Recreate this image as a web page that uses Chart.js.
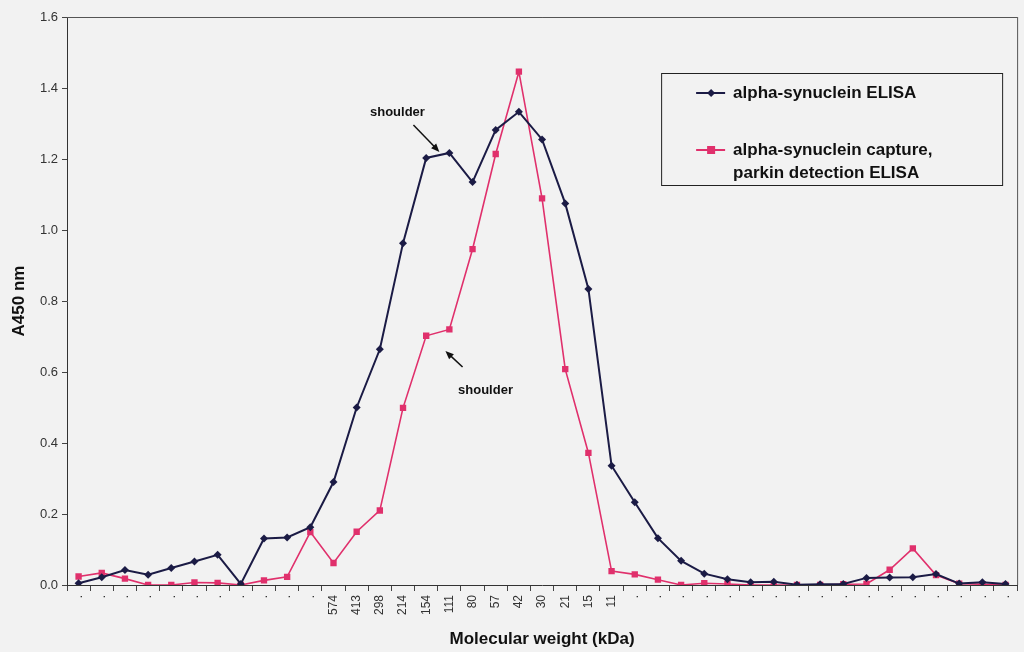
<!DOCTYPE html>
<html lang="en">
<head>
  <meta charset="UTF-8">
  <title>Alpha-synuclein ELISA fractions</title>
  <style>
    html, body { margin: 0; padding: 0; background: #f2f2f2; }
    canvas { display: block; }
  </style>
</head>
<body>
<canvas id="elisaChart" width="1024" height="652" style="width:1024px;height:652px"></canvas>

<script src="https://cdn.jsdelivr.net/npm/chart.js@4.4.1/dist/chart.umd.min.js"></script>
<script>
  // fractions: only the calibrated ones carry a molecular weight
  const categories = ['.', '.', '.', '.', '.', '.', '.', '.', '.', '.', '.',
    '574', '413', '298', '214', '154', '111', '80', '57', '42', '30', '21', '15', '11',
    '.', '.', '.', '.', '.', '.', '.', '.', '.', '.', '.', '.', '.', '.', '.', '.', '.'];

  const synucleinElisa = [0.005, 0.022, 0.042, 0.029, 0.048, 0.066, 0.085, 0.003, 0.131, 0.134,
    0.163, 0.29, 0.50, 0.664, 0.963, 1.203, 1.217, 1.135, 1.282, 1.333,
    1.255, 1.075, 0.834, 0.336, 0.233, 0.132, 0.068, 0.032, 0.016, 0.008,
    0.009, 0.001, 0.002, 0.003, 0.02, 0.021, 0.022, 0.031, 0.004, 0.008, 0.003];

  const parkinDetection = [0.024, 0.034, 0.018, 0, 0, 0.007, 0.006, 0, 0.013, 0.023,
    0.149, 0.062, 0.150, 0.21, 0.499, 0.702, 0.72, 0.946, 1.214, 1.446,
    1.089, 0.608, 0.372, 0.039, 0.03, 0.015, 0, 0.005, 0.003, 0,
    0, 0, 0, 0.002, 0.003, 0.043, 0.103, 0.028, 0.004, 0.002, 0];

  const seriesNames = ['alpha-synuclein ELISA', 'alpha-synuclein capture,|parkin detection ELISA'];

  // "shoulder" notes: text position and arrow, in (category index, A450) units
  const notes = [
    { text: 'shoulder', at: [13.76, 1.332], from: [14.45, 1.296], to: [15.57, 1.22] },
    { text: 'shoulder', at: [17.56, 0.549], from: [16.57, 0.614], to: [15.83, 0.659] }
  ];

  const navy = '#1b1b45';
  const pink = '#e0306c';
  const fontFamily = '"Liberation Sans", Arial, sans-serif';

  const plotFrame = {
    id: 'plotFrame',
    afterDraw(chart) {
      const { ctx, chartArea: a } = chart;
      ctx.save();
      ctx.strokeStyle = '#555';
      ctx.lineWidth = 1;
      ctx.beginPath();
      ctx.moveTo(a.left, a.top + 0.5);
      ctx.lineTo(a.right, a.top + 0.5);
      ctx.moveTo(a.right + 0.5, a.top);
      ctx.lineTo(a.right + 0.5, a.bottom);
      ctx.stroke();
      ctx.restore();
    }
  };

  const shoulderNotes = {
    id: 'shoulderNotes',
    afterDatasetsDraw(chart) {
      const { ctx, scales: { x, y } } = chart;
      const px = p => [x.getPixelForValue(p[0]), y.getPixelForValue(p[1])];
      ctx.save();
      ctx.font = 'bold 13px ' + fontFamily;
      ctx.textAlign = 'center';
      ctx.textBaseline = 'middle';
      ctx.fillStyle = '#111';
      ctx.strokeStyle = '#111';
      ctx.lineWidth = 1.5;
      notes.forEach(n => {
        const [tx, ty] = px(n.at);
        ctx.fillText(n.text, tx, ty);
        const [x1, y1] = px(n.from);
        const [x2, y2] = px(n.to);
        const ang = Math.atan2(y2 - y1, x2 - x1);
        ctx.beginPath();
        ctx.moveTo(x1, y1);
        ctx.lineTo(x2 - 6 * Math.cos(ang), y2 - 6 * Math.sin(ang));
        ctx.stroke();
        ctx.beginPath();
        ctx.moveTo(x2, y2);
        ctx.lineTo(x2 - 9 * Math.cos(ang - 0.4), y2 - 9 * Math.sin(ang - 0.4));
        ctx.lineTo(x2 - 9 * Math.cos(ang + 0.4), y2 - 9 * Math.sin(ang + 0.4));
        ctx.closePath();
        ctx.fill();
      });
      ctx.restore();
    }
  };

  const boxedLegend = {
    id: 'boxedLegend',
    afterDraw(chart) {
      const { ctx, chartArea: a } = chart;
      const left = a.right - 356, top = a.top + 56;
      ctx.save();
      ctx.strokeStyle = '#222';
      ctx.lineWidth = 1;
      ctx.strokeRect(left + 0.5, top + 0.5, 341, 112);
      ctx.font = 'bold 17px ' + fontFamily;
      ctx.textBaseline = 'middle';
      ctx.fillStyle = '#111';
      const rows = [top + 20, top + 77];
      chart.data.datasets.forEach((ds, i) => {
        const ry = rows[i];
        ctx.strokeStyle = ds.borderColor;
        ctx.lineWidth = 2;
        ctx.beginPath();
        ctx.moveTo(left + 35, ry);
        ctx.lineTo(left + 64, ry);
        ctx.stroke();
        ctx.fillStyle = ds.pointBackgroundColor;
        const mx = left + 50;
        if (ds.pointStyle === 'rect') {
          ctx.fillRect(mx - 4, ry - 4, 8, 8);
        } else {
          ctx.beginPath();
          ctx.moveTo(mx, ry - 4); ctx.lineTo(mx + 4, ry); ctx.lineTo(mx, ry + 4); ctx.lineTo(mx - 4, ry);
          ctx.closePath();
          ctx.fill();
        }
        ctx.fillStyle = '#111';
        seriesNames[i].split('|').forEach((line, k) => {
          ctx.fillText(line, left + 72, ry + k * 23);
        });
      });
      ctx.restore();
    }
  };

  const ctx = document.getElementById('elisaChart').getContext('2d');
  new Chart(ctx, {
    type: 'line',
    data: {
      labels: categories,
      datasets: [
        {
          label: seriesNames[0],
          data: synucleinElisa,
          borderColor: navy,
          borderWidth: 2,
          pointStyle: 'rectRot',
          pointRadius: 4,
          pointBackgroundColor: navy,
          pointBorderColor: navy,
          pointBorderWidth: 0,
          tension: 0
        },
        {
          label: seriesNames[1].replace('|', ' '),
          data: parkinDetection,
          borderColor: pink,
          borderWidth: 1.6,
          pointStyle: 'rect',
          pointRadius: 4.5,
          pointBackgroundColor: pink,
          pointBorderColor: pink,
          pointBorderWidth: 0,
          tension: 0
        }
      ]
    },
    options: {
      responsive: false,
      animation: false,
      layout: { padding: { top: 17, right: 6, left: 0, bottom: 0 } },
      plugins: {
        legend: { display: false },
        tooltip: { enabled: false }
      },
      scales: {
        x: {
          offset: true,
          grid: { display: true, drawOnChartArea: false, drawTicks: true, tickLength: 6, offset: true, color: '#444' },
          border: { color: '#333', width: 1 },
          ticks: {
            autoSkip: false, minRotation: 90, maxRotation: 90, padding: 4,
            color: '#333', font: { family: fontFamily, size: 12 }
          },
          title: {
            display: true, text: 'Molecular weight (kDa)', color: '#111',
            font: { family: fontFamily, size: 17, weight: 'bold' }, padding: { top: 2, bottom: 2 }
          },
          afterFit: s => { s.height = 67; }
        },
        y: {
          min: 0,
          max: 1.6,
          grid: { display: true, drawOnChartArea: false, drawTicks: true, tickLength: 5, color: '#444' },
          border: { color: '#333', width: 1 },
          ticks: {
            stepSize: 0.2, padding: 4, color: '#333',
            font: { family: fontFamily, size: 13 },
            callback: v => v.toFixed(1)
          },
          title: {
            display: true, text: 'A450 nm', color: '#111',
            font: { family: fontFamily, size: 17, weight: 'bold' }, padding: { top: 9, bottom: 4 }
          },
          afterFit: s => { s.width = 67; }
        }
      }
    },
    plugins: [plotFrame, shoulderNotes, boxedLegend]
  });
</script>
</body>
</html>
